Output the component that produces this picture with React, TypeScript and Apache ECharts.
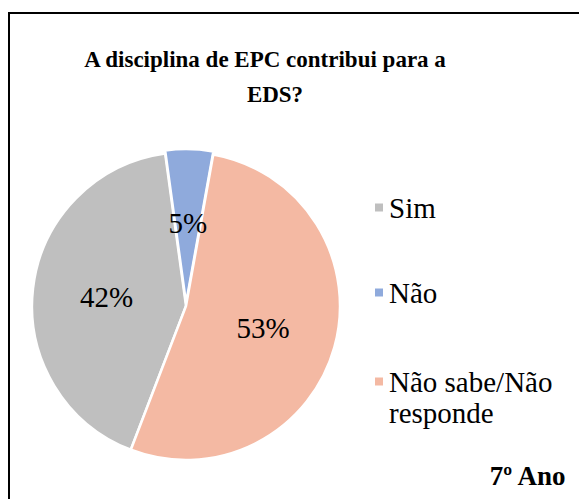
import React, { useEffect, useRef } from "react";
import * as echarts from "echarts";

const titleLines = ["A disciplina de EPC contribui para a", "EDS?"];
const categories = ["Sim", "Não", "Não sabe/Não responde"];
const values = [42, 5, 53];
const colors = ["#BFBFBF", "#8FAADC", "#F4B9A3"];
const footer = "7º Ano";

const SERIF = "Liberation Serif";

export default function App() {
  const ref = useRef<HTMLDivElement>(null);
  useEffect(() => {
    const chart = echarts.init(ref.current!, null, { renderer: "svg" });
    const legendText = { fontFamily: SERIF, fontSize: 29, color: "#000", lineHeight: 31 };
    const legendBase = {
      left: 373,
      padding: 0,
      orient: "vertical",
      icon: "rect",
      itemWidth: 10,
      itemHeight: 10,
      itemGap: 5,
      selectedMode: false,
      textStyle: legendText,
    };
    chart.setOption({
      animation: false,
      backgroundColor: "#fff",
      legend: [
        { ...legendBase, data: [categories[0]], top: 192 },
        { ...legendBase, data: [categories[1]], top: 277 },
        {
          ...legendBase,
          data: [categories[2]],
          formatter: (n: string) => "\n" + n.replace("Não responde", "Não\nresponde"),
          top: 335,
        },
      ],
      graphic: [
        {
          type: "rect",
          shape: { x: 9, y: 13, width: 700, height: 600 },
          style: { fill: "none", stroke: "#000", lineWidth: 2 },
          silent: true,
        },
        {
          type: "text",
          x: 265,
          y: 59.5,
          style: {
            text: titleLines[0],
            font: `bold 23px "${SERIF}"`,
            fill: "#000",
            align: "center",
            verticalAlign: "middle",
          },
        },
        {
          type: "text",
          x: 275,
          y: 94.5,
          style: {
            text: titleLines[1],
            font: `bold 23px "${SERIF}"`,
            fill: "#000",
            align: "center",
            verticalAlign: "middle",
          },
        },
        {
          type: "text",
          right: 12,
          top: 462,
          style: { text: footer, font: `bold 27px "${SERIF}"`, fill: "#000" },
        },
      ],
      series: [
        {
          type: "pie",
          center: [186, 306],
          radius: 154,
          startAngle: -111,
          clockwise: true,
          selectedMode: "multiple",
          selectedOffset: 3,
          itemStyle: { borderColor: "#fff", borderWidth: 2.5 },
          select: { itemStyle: { borderColor: "#fff", borderWidth: 2.5 } },
          emphasis: { disabled: true },
          label: {
            show: true,
            position: "inside",
            formatter: (p: any) => `${p.value}%`,
            fontFamily: SERIF,
            fontSize: 29,
            color: "#000",
          },
          labelLine: { show: false },
          data: categories.map((c, i) => ({
            name: c,
            value: values[i],
            selected: i === 1,
            itemStyle: { color: colors[i] },
          })),
        },
      ],
    });
    return () => chart.dispose();
  }, []);
  return (
    <div
      ref={ref}
      style={{ position: "fixed", left: 0, top: 0, width: 579, height: 499 }}
    />
  );
}
